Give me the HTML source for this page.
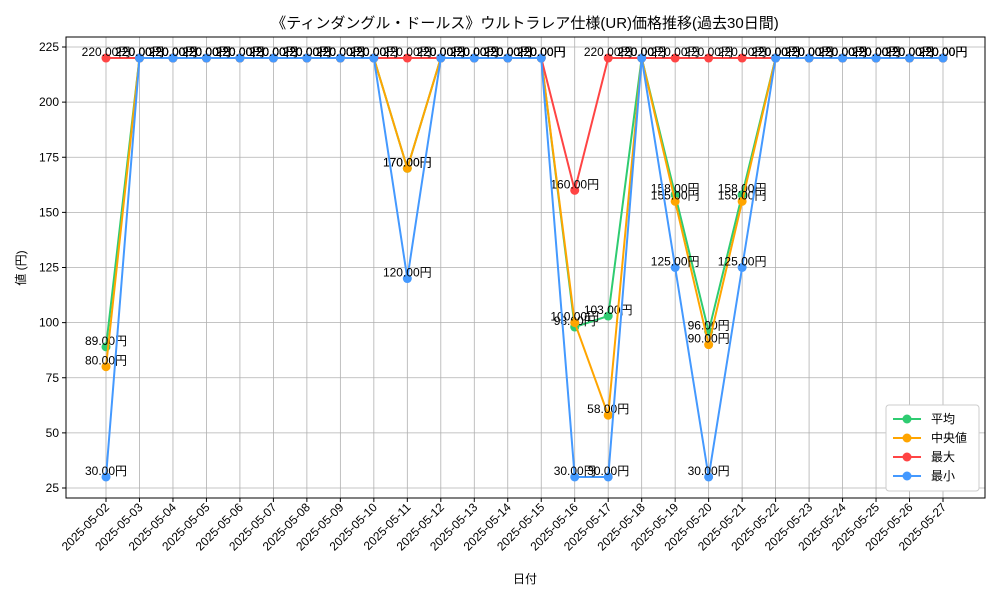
<!DOCTYPE html>
<html><head><meta charset="utf-8"><style>
body{margin:0;background:#fff;}
svg text{font-family:"Liberation Sans","Noto Sans CJK JP",sans-serif;}
</style></head><body>
<svg id="chart" width="1000" height="600" xmlns="http://www.w3.org/2000/svg"></svg>
<script>
const dates=["2025-05-02","2025-05-03","2025-05-04","2025-05-05","2025-05-06","2025-05-07","2025-05-08","2025-05-09","2025-05-10","2025-05-11","2025-05-12","2025-05-13","2025-05-14","2025-05-15","2025-05-16","2025-05-17","2025-05-18","2025-05-19","2025-05-20","2025-05-21","2025-05-22","2025-05-23","2025-05-24","2025-05-25","2025-05-26","2025-05-27"];
const avgVals=[89,220,220,220,220,220,220,220,220,170,220,220,220,220,98,103,220,158,96,158,220,220,220,220,220,220];
const medVals=[80,220,220,220,220,220,220,220,220,170,220,220,220,220,100,58,220,155,90,155,220,220,220,220,220,220];
const maxVals=[220,220,220,220,220,220,220,220,220,220,220,220,220,220,160,220,220,220,220,220,220,220,220,220,220,220];
const minVals=[30,220,220,220,220,220,220,220,220,120,220,220,220,220,30,30,220,125,30,125,220,220,220,220,220,220];
const yTicks=[25,50,75,100,125,150,175,200,225];
const seriesNames=["平均","中央値","最大","最小"];
const NS="http://www.w3.org/2000/svg";
const svg=document.getElementById("chart");
const L=66,R=985,T=37,B=498;
const x=i=>106+i*(943-106)/(dates.length-1);
const y=v=>488-(v-25)*(441/200);
function el(tag,attrs,parent){const e=document.createElementNS(NS,tag);for(const k in attrs)e.setAttribute(k,attrs[k]);(parent||svg).appendChild(e);return e;}
// grid
yTicks.forEach(t=>{
 const g=el("line",{x1:L,x2:R,y1:y(t),y2:y(t),stroke:"#b0b0b0","stroke-width":0.8});
 
 
 el("line",{x1:L-4,x2:L,y1:y(t),y2:y(t),stroke:"#000"});
 const tx=el("text",{x:L-7,y:y(t)+4,"text-anchor":"end","font-size":12});
 tx.textContent=t;
 
 
});
dates.forEach((d,i)=>{
 const g=el("line",{x1:x(i),x2:x(i),y1:T,y2:B,stroke:"#b0b0b0","stroke-width":0.8});
 
 
 el("line",{x1:x(i),x2:x(i),y1:B,y2:B+4,stroke:"#000"});
 const tx=el("text",{x:x(i)+4,y:B+10,"text-anchor":"end","font-size":12,transform:`rotate(-45 ${x(i)+4} ${B+10})`});
 tx.textContent=d;
 
 
});
const frame=el("rect",{x:L,y:T,width:R-L,height:B-T,fill:"none",stroke:"#000","stroke-width":1});


const series=[[avgVals,"#2ecc71"],[medVals,"#ffa500"],[maxVals,"#ff4444"],[minVals,"#4499ff"]];
series.forEach(([vals,c],si)=>{
 const pl=el("polyline",{points:vals.map((v,i)=>x(i)+","+y(v)).join(" "),fill:"none",stroke:c,"stroke-width":2});
 
 
 vals.forEach((v,i)=>{
  const m=el("circle",{cx:x(i),cy:y(v),r:4.5,fill:c});
  
  
 });
 vals.forEach((v,i)=>{
  const t=el("text",{x:x(i),y:y(v)-2,"text-anchor":"middle","font-size":12,fill:"#000"});
  t.textContent=v.toFixed(2)+"円";
  
  
 });
});
// title & axis titles
const ti=el("text",{x:525,y:28,"text-anchor":"middle","font-size":15});ti.textContent="《ティンダングル・ドールス》ウルトラレア仕様(UR)価格推移(過去30日間)";


const xt=el("text",{x:525,y:583,"text-anchor":"middle","font-size":12});xt.textContent="日付";


const yt=el("text",{x:25,y:268,"text-anchor":"middle","font-size":12,transform:"rotate(-90 25 268)"});yt.textContent="値 (円)";


// legend
const lg=el("rect",{x:886,y:405,width:93,height:86,fill:"#fff",stroke:"#ccc",rx:3});


series.forEach(([v,c],i)=>{
 const yy=419+i*19;
 el("line",{x1:893,x2:921,y1:yy,y2:yy,stroke:c,"stroke-width":2});
 el("circle",{cx:907,cy:yy,r:4.5,fill:c});
 const t=el("text",{x:931,y:yy+4,"font-size":12});t.textContent=seriesNames[i];
 
 
});
</script>
</body></html>
